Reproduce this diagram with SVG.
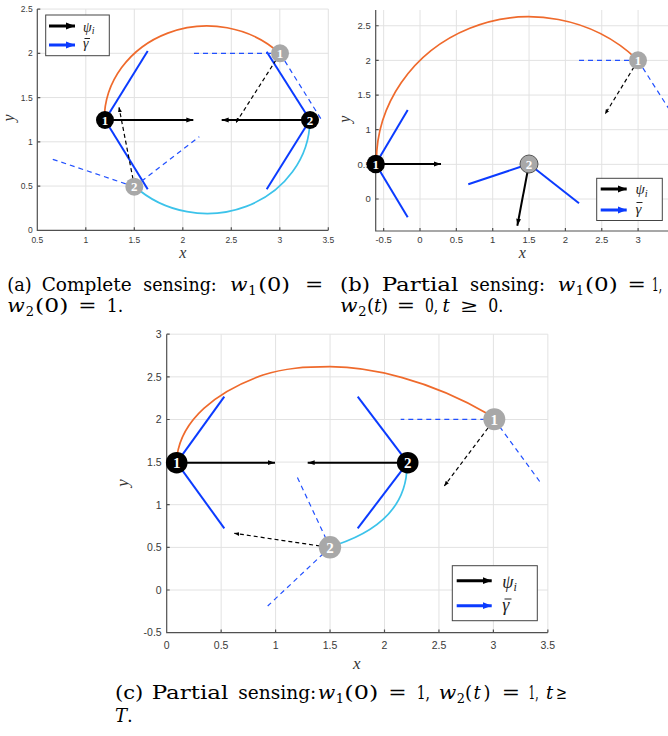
<svg xmlns="http://www.w3.org/2000/svg" width="668" height="736" viewBox="0 0 668 736">
<style>
.grid{stroke:#e2e2e2;stroke-width:1;fill:none}
.axis{stroke:#505050;stroke-width:1.2;fill:none}
.tk{font-family:"Liberation Sans",Arial,sans-serif;fill:#3a3a3a}
.r{text-anchor:end}
.m{text-anchor:middle}
.alab{font-family:"Liberation Serif","Times New Roman",serif;font-style:italic;fill:#333}
.orange{fill:none;stroke:#EF6A2C;stroke-width:1.7}
.cyan{fill:none;stroke:#3CC3EA;stroke-width:1.7}
.blue{stroke:#0B3BFF;stroke-width:2;fill:none}
.bdash{stroke:#2150FF;stroke-width:1.2;stroke-dasharray:5 4;fill:none}
.kdash{stroke:#000;stroke-width:1.2;stroke-dasharray:4 3;fill:none}
.karrow{stroke:#000;stroke-width:2;fill:none}
.nb{fill:#000}
.ng{fill:#a8a8a8}
.nl{font-family:"Liberation Serif","Times New Roman",serif;font-weight:bold;fill:#fff;text-anchor:middle}
.leg{fill:#fff;stroke:#444;stroke-width:1}
.lk{stroke:#000;stroke-width:3}
.lb{stroke:#0B3BFF;stroke-width:3}
.lt{font-family:"Liberation Serif","Times New Roman",serif;font-style:italic;fill:#222}
.bar{stroke:#222;stroke-width:1}
.cap{font-family:"DejaVu Serif","Liberation Serif",serif;font-size:18px;fill:#000}
.it{font-style:italic}
.sub{font-size:13px}
</style>
<defs>
<marker id="ah" markerUnits="userSpaceOnUse" markerWidth="8" markerHeight="6" refX="7" refY="3" orient="auto"><path d="M0,0.6 L7,3 L0,5.4 Z" fill="#000"/></marker>
<marker id="ahd" markerUnits="userSpaceOnUse" markerWidth="6" markerHeight="5" refX="5" refY="2.5" orient="auto"><path d="M0,0.5 L5,2.5 L0,4.5 Z" fill="#000"/></marker>
<marker id="lhk" markerUnits="userSpaceOnUse" markerWidth="10" markerHeight="8" refX="9" refY="4" orient="auto"><path d="M0,0.5 L9,4 L0,7.5 Z" fill="#000"/></marker>
<marker id="lhb" markerUnits="userSpaceOnUse" markerWidth="10" markerHeight="8" refX="9" refY="4" orient="auto"><path d="M0,0.5 L9,4 L0,7.5 Z" fill="#0B3BFF"/></marker>
</defs>
<rect width="668" height="736" fill="#fff"/>

<!-- ===== Panel (a) ===== -->
<g id="panel-a">
<g class="grid">
<path d="M85.8,9V230.3M134.3,9V230.3M182.8,9V230.3M231.3,9V230.3M279.8,9V230.3M328.3,9V230.3"/>
<path d="M37.3,186.05H328.3M37.3,141.8H328.3M37.3,97.55H328.3M37.3,53.3H328.3M37.3,9.05H328.3"/>
</g>
<path class="axis" d="M37.3,9V230.3H328.3"/>
<path class="axis" d="M85.8,230.3v-3M134.3,230.3v-3M182.8,230.3v-3M231.3,230.3v-3M279.8,230.3v-3M328.3,230.3v-3M37.3,186.05h3M37.3,141.8h3M37.3,97.55h3M37.3,53.3h3M37.3,9.05h3"/>
<g class="tk m" font-size="8.5">
<text x="37.3" y="243.3">0.5</text><text x="85.8" y="243.3">1</text><text x="134.3" y="243.3">1.5</text><text x="182.8" y="243.3">2</text><text x="231.3" y="243.3">2.5</text><text x="279.8" y="243.3">3</text><text x="328.3" y="243.3">3.5</text>
</g>
<g class="tk r" font-size="8.5">
<text x="32.7" y="233.3">0</text><text x="32.7" y="189">0.5</text><text x="32.7" y="144.8">1</text><text x="32.7" y="100.5">1.5</text><text x="32.7" y="56.3">2</text><text x="32.7" y="12">2.5</text>
</g>
<text class="alab m" x="182.7" y="258" font-size="16">x</text>
<text class="alab m" transform="translate(13.5,118) rotate(-90)" font-size="16">y</text>
<path class="orange" d="M104.3,119.7 A102.8,93.8 0 0 1 279.75,53.4"/>
<path class="cyan" d="M134.35,186 A102.8,93.8 0 0 0 309.85,119.7"/>
<g id="connectors-a">
<line class="blue" x1="105" y1="120" x2="147.7" y2="51"/>
<line class="blue" x1="105" y1="120" x2="147.7" y2="189.3"/>
<line class="blue" x1="310" y1="120" x2="266.7" y2="51.7"/>
<line class="blue" x1="310" y1="120" x2="266.7" y2="189.3"/>
<line class="bdash" x1="280" y1="53.3" x2="192.7" y2="53.3"/>
<line class="bdash" x1="280" y1="53.3" x2="322.7" y2="121.7"/>
<line class="bdash" x1="134.3" y1="186.7" x2="52.7" y2="159.3"/>
<line class="bdash" x1="134.3" y1="186.7" x2="199.3" y2="136.7"/>
<line class="kdash" x1="276" y1="60" x2="236" y2="122.7" marker-end="url(#ahd)"/>
<line class="kdash" x1="133" y1="179" x2="119" y2="107.3" marker-end="url(#ahd)"/>
<line class="karrow" x1="105" y1="120" x2="193.3" y2="120" marker-end="url(#ah)"/>
<line class="karrow" x1="310" y1="120" x2="221.7" y2="120" marker-end="url(#ah)"/>
</g>
<g id="a-node1"><circle class="nb" cx="105" cy="120" r="9"/><text class="nl" x="105" y="124.5" font-size="13">1</text></g>
<g id="a-node2"><circle class="nb" cx="310" cy="120" r="9"/><text class="nl" x="310" y="124.5" font-size="13">2</text></g>
<g id="a-ghost1"><circle class="ng" cx="280" cy="53.3" r="9"/><text class="nl" x="280" y="57.8" font-size="13">1</text></g>
<g id="a-ghost2"><circle class="ng" cx="134.3" cy="186.7" r="9"/><text class="nl" x="134.3" y="191.2" font-size="13">2</text></g>
<g id="a-legend">
<rect class="leg" x="45.7" y="15" width="63.6" height="40.7"/>
<line class="lk" x1="49" y1="26" x2="75" y2="26" marker-end="url(#lhk)"/>
<line class="lb" x1="49" y1="45" x2="75" y2="45" marker-end="url(#lhb)"/>
<text class="lt" x="83" y="31.5" font-size="14">ψ<tspan font-size="10" dy="2.5">i</tspan></text>
<text class="lt" x="83" y="47.5" font-size="14">γ</text>
<line class="bar" x1="84.5" y1="38.5" x2="90" y2="38.5"/>
</g>
</g>

<!-- ===== Panel (b) ===== -->
<g id="panel-b">
<g class="grid">
<path d="M383.65,10V231M420,10V231M456.35,10V231M492.7,10V231M529.05,10V231M565.4,10V231M601.75,10V231M638.1,10V231"/>
<path d="M375.7,199H668M375.7,164.35H668M375.7,129.7H668M375.7,95.05H668M375.7,60.4H668M375.7,25.75H668"/>
</g>
<path class="axis" d="M375.7,10V231H668"/>
<path class="axis" d="M383.65,231v-3M420,231v-3M456.35,231v-3M492.7,231v-3M529.05,231v-3M565.4,231v-3M601.75,231v-3M638.1,231v-3M375.7,199h3M375.7,164.35h3M375.7,129.7h3M375.7,95.05h3M375.7,60.4h3M375.7,25.75h3"/>
<g class="tk m" font-size="9.5">
<text x="383.65" y="243.3">-0.5</text><text x="420" y="243.3">0</text><text x="456.35" y="243.3">0.5</text><text x="492.7" y="243.3">1</text><text x="529.05" y="243.3">1.5</text><text x="565.4" y="243.3">2</text><text x="601.75" y="243.3">2.5</text><text x="638.1" y="243.3">3</text>
</g>
<g class="tk r" font-size="9.5">
<text x="370.7" y="202.3">0</text><text x="370.7" y="167.7">0.5</text><text x="370.7" y="133">1</text><text x="370.7" y="98.4">1.5</text><text x="370.7" y="63.7">2</text><text x="370.7" y="29">2.5</text>
</g>
<text class="alab m" x="522.3" y="258" font-size="16">x</text>
<text class="alab m" transform="translate(349.5,119.3) rotate(-90)" font-size="16">y</text>
<path class="orange" d="M376.35,164 A152.7,145.5 0 0 1 637,59.4"/>
<g id="connectors-b">
<line class="blue" x1="375.7" y1="164" x2="407.7" y2="110"/>
<line class="blue" x1="375.7" y1="164" x2="407.7" y2="217.3"/>
<line class="blue" x1="529" y1="164" x2="468.3" y2="184.3"/>
<line class="blue" x1="529" y1="164" x2="579" y2="203.3"/>
<line class="bdash" x1="638" y1="60.3" x2="576.7" y2="60.3"/>
<line class="bdash" x1="638" y1="60.3" x2="675" y2="118.5"/>
<line class="kdash" x1="634" y1="67" x2="605" y2="114.3" marker-end="url(#ahd)"/>
<line class="karrow" x1="375.7" y1="164" x2="441" y2="164" marker-end="url(#ah)"/>
<line class="karrow" x1="529" y1="164" x2="517.3" y2="225.7" marker-end="url(#ah)"/>
</g>
<g id="b-node1"><circle class="nb" cx="375.7" cy="164" r="9.2"/><text class="nl" x="375.7" y="168.5" font-size="13">1</text></g>
<g id="b-node2"><circle class="ng" cx="529" cy="164" r="9" stroke="#555" stroke-width="1"/><text class="nl" x="529" y="168.5" font-size="13">2</text></g>
<g id="b-ghost1"><circle class="ng" cx="638" cy="60.3" r="9"/><text class="nl" x="638" y="64.8" font-size="13">1</text></g>
<g id="b-legend">
<rect class="leg" x="596.7" y="178.3" width="65.6" height="42.2"/>
<line class="lk" x1="600.7" y1="189" x2="626.7" y2="189" marker-end="url(#lhk)"/>
<line class="lb" x1="600.7" y1="210" x2="626.7" y2="210" marker-end="url(#lhb)"/>
<text class="lt" x="635.5" y="194" font-size="15">ψ<tspan font-size="10.5" dy="2.5">i</tspan></text>
<text class="lt" x="635.5" y="213.5" font-size="15">γ</text>
<line class="bar" x1="636.5" y1="202.5" x2="642.5" y2="202.5"/>
</g>
</g>

<!-- ===== Panel (c) ===== -->
<g id="panel-c">
<g class="grid">
<path d="M221.15,334.2V632.6M275.6,334.2V632.6M330.05,334.2V632.6M384.5,334.2V632.6M438.95,334.2V632.6M493.4,334.2V632.6M547.85,334.2V632.6"/>
<path d="M166.7,334.2H547.85M166.7,376.85H547.85M166.7,419.5H547.85M166.7,462.1H547.85M166.7,504.7H547.85M166.7,547.4H547.85M166.7,590H547.85"/>
</g>
<path class="axis" d="M166.7,334.2V632.6H547.85"/>
<path class="axis" d="M221.15,632.6v-3M275.6,632.6v-3M330.05,632.6v-3M384.5,632.6v-3M438.95,632.6v-3M493.4,632.6v-3M547.85,632.6v-3M166.7,334.2h3M166.7,376.85h3M166.7,419.5h3M166.7,462.1h3M166.7,504.7h3M166.7,547.4h3M166.7,590h3"/>
<g class="tk m" font-size="10.5">
<text x="166.7" y="649">0</text><text x="221.15" y="649">0.5</text><text x="275.6" y="649">1</text><text x="330.05" y="649">1.5</text><text x="384.5" y="649">2</text><text x="438.95" y="649">2.5</text><text x="493.4" y="649">3</text><text x="547.85" y="649">3.5</text>
</g>
<g class="tk r" font-size="10.5">
<text x="161.7" y="338">3</text><text x="161.7" y="380.6">2.5</text><text x="161.7" y="423.3">2</text><text x="161.7" y="465.9">1.5</text><text x="161.7" y="508.5">1</text><text x="161.7" y="551.2">0.5</text><text x="161.7" y="593.8">0</text><text x="161.7" y="636.4">-0.5</text>
</g>
<text class="alab m" x="356.7" y="669" font-size="17">x</text>
<text class="alab m" transform="translate(128,483) rotate(-90)" font-size="17">y</text>
<path class="orange" d="M177,456 C182,420 215,392 263,375 C285,368 305,366.7 330,366.7 C370,366.7 430,380 488,414"/>
<path class="cyan" d="M336,545 C372,533 407,510 407,465"/>
<g id="connectors-c">
<line class="blue" x1="176.7" y1="462.7" x2="224.3" y2="396.7"/>
<line class="blue" x1="176.7" y1="462.7" x2="224.3" y2="528.3"/>
<line class="blue" x1="407.7" y1="462.7" x2="357.7" y2="396.7"/>
<line class="blue" x1="407.7" y1="462.7" x2="357.7" y2="528.3"/>
<line class="bdash" x1="494.3" y1="419.3" x2="400.7" y2="419.3"/>
<line class="bdash" x1="494.3" y1="419.3" x2="541" y2="483.3"/>
<line class="bdash" x1="330" y1="547.3" x2="296.7" y2="476"/>
<line class="bdash" x1="330" y1="547.3" x2="267.7" y2="606"/>
<line class="kdash" x1="488" y1="428" x2="444.3" y2="486" marker-end="url(#ahd)"/>
<line class="kdash" x1="320" y1="546" x2="234.3" y2="533.3" marker-end="url(#ahd)"/>
<line class="karrow" x1="176.7" y1="462.7" x2="275" y2="462.7" marker-end="url(#ah)"/>
<line class="karrow" x1="407.7" y1="462.7" x2="307.7" y2="462.7" marker-end="url(#ah)"/>
</g>
<g id="c-node1"><circle class="nb" cx="176.7" cy="462.7" r="10.8"/><text class="nl" x="176.7" y="468" font-size="15">1</text></g>
<g id="c-node2"><circle class="nb" cx="407.7" cy="462.7" r="10.8"/><text class="nl" x="407.7" y="468" font-size="15">2</text></g>
<g id="c-ghost1"><circle class="ng" cx="494.3" cy="419.3" r="11"/><text class="nl" x="494.3" y="424.6" font-size="15">1</text></g>
<g id="c-ghost2"><circle class="ng" cx="330" cy="547.3" r="11.2"/><text class="nl" x="330" y="552.6" font-size="15">2</text></g>
<g id="c-legend">
<rect class="leg" x="452.3" y="565.7" width="85" height="55"/>
<line class="lk" x1="456.7" y1="580.7" x2="491.7" y2="580.7" marker-end="url(#lhk)"/>
<line class="lb" x1="456.7" y1="605.7" x2="491.7" y2="605.7" marker-end="url(#lhb)"/>
<text class="lt" x="502.3" y="588" font-size="18">ψ<tspan font-size="12" dy="3">i</tspan></text>
<text class="lt" x="502.3" y="611" font-size="18">γ</text>
<line class="bar" x1="504.5" y1="599" x2="511.5" y2="599"/>
</g>
</g>

<!-- ===== Captions ===== -->
<g id="captions" class="cap">
<text y="290.5"><tspan x="7.3" textLength="24.4" lengthAdjust="spacingAndGlyphs">(a)</tspan><tspan x="41.7" textLength="90" lengthAdjust="spacingAndGlyphs">Complete</tspan><tspan x="143.3" textLength="73.4" lengthAdjust="spacingAndGlyphs">sensing:</tspan><tspan x="230" class="it" textLength="17.5" lengthAdjust="spacingAndGlyphs">w</tspan><tspan x="248.3" class="sub" dy="4">1</tspan><tspan x="258.3" dy="-4" textLength="31.7" lengthAdjust="spacingAndGlyphs">(0)</tspan><tspan x="305" textLength="18.3" lengthAdjust="spacingAndGlyphs">=</tspan></text>
<text y="312"><tspan x="7.3" class="it" textLength="17.5" lengthAdjust="spacingAndGlyphs">w</tspan><tspan x="25.7" class="sub" dy="4">2</tspan><tspan x="35" dy="-4" textLength="33.3" lengthAdjust="spacingAndGlyphs">(0)</tspan><tspan x="78.3" textLength="18.3" lengthAdjust="spacingAndGlyphs">=</tspan><tspan x="106.7" textLength="16.6" lengthAdjust="spacingAndGlyphs">1.</tspan></text>
<text y="290.5"><tspan x="340" textLength="30" lengthAdjust="spacingAndGlyphs">(b)</tspan><tspan x="381.7" textLength="76.6" lengthAdjust="spacingAndGlyphs">Partial</tspan><tspan x="470" textLength="75" lengthAdjust="spacingAndGlyphs">sensing:</tspan><tspan x="557.7" class="it" textLength="17.5" lengthAdjust="spacingAndGlyphs">w</tspan><tspan x="575.7" class="sub" dy="4">1</tspan><tspan x="585" dy="-4" textLength="32.7" lengthAdjust="spacingAndGlyphs">(0)</tspan><tspan x="627.5" textLength="18.4" lengthAdjust="spacingAndGlyphs">=</tspan><tspan x="652" textLength="10" lengthAdjust="spacingAndGlyphs">1,</tspan></text>
<text y="312"><tspan x="340" class="it" textLength="17.5" lengthAdjust="spacingAndGlyphs">w</tspan><tspan x="358.3" class="sub" dy="4">2</tspan><tspan x="367" dy="-4">(</tspan><tspan x="374" class="it">t</tspan><tspan x="381">)</tspan><tspan x="396.7" textLength="18.3" lengthAdjust="spacingAndGlyphs">=</tspan><tspan x="425" textLength="13.3" lengthAdjust="spacingAndGlyphs">0,</tspan><tspan x="442.5" class="it">t</tspan><tspan x="460" textLength="18.3" lengthAdjust="spacingAndGlyphs">≥</tspan><tspan x="488.3" textLength="15" lengthAdjust="spacingAndGlyphs">0.</tspan></text>
<text y="699"><tspan x="115" textLength="28.3" lengthAdjust="spacingAndGlyphs">(c)</tspan><tspan x="151.7" textLength="76.6" lengthAdjust="spacingAndGlyphs">Partial</tspan><tspan x="238.3" textLength="78" lengthAdjust="spacingAndGlyphs">sensing:</tspan><tspan x="317.8" class="it" textLength="17.5" lengthAdjust="spacingAndGlyphs">w</tspan><tspan x="335.7" class="sub" dy="4">1</tspan><tspan x="344.3" dy="-4" textLength="34" lengthAdjust="spacingAndGlyphs">(0)</tspan><tspan x="388.3" textLength="18.4" lengthAdjust="spacingAndGlyphs">=</tspan><tspan x="416.7" textLength="13.3" lengthAdjust="spacingAndGlyphs">1,</tspan><tspan x="438.8" class="it" textLength="17.5" lengthAdjust="spacingAndGlyphs">w</tspan><tspan x="456.7" class="sub" dy="4">2</tspan><tspan x="465" dy="-4">(</tspan><tspan x="473.5" class="it">t</tspan><tspan x="483.5">)</tspan><tspan x="501.7" textLength="18.3" lengthAdjust="spacingAndGlyphs">=</tspan><tspan x="528.5" textLength="10" lengthAdjust="spacingAndGlyphs">1,</tspan><tspan x="546" class="it">t</tspan><tspan x="556" textLength="11" lengthAdjust="spacingAndGlyphs">≥</tspan></text>
<text y="721.5"><tspan x="115" class="it">T</tspan><tspan>.</tspan></text>
</g>
</svg>
